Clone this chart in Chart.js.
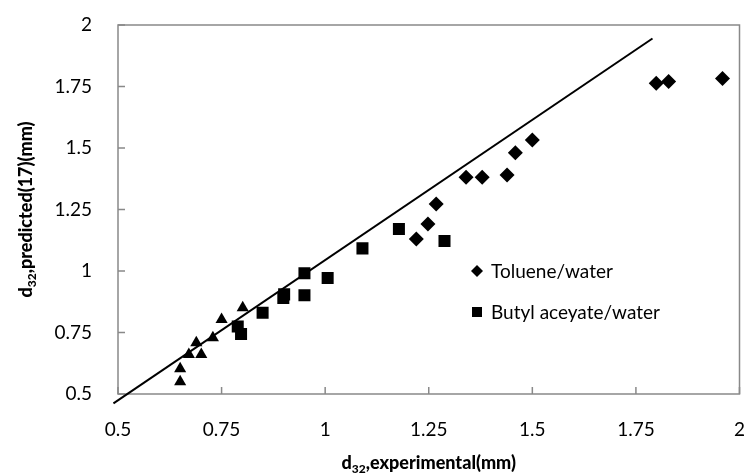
<!DOCTYPE html>
<html>
<head>
<meta charset="utf-8">
<script src="https://cdn.jsdelivr.net/npm/chart.js@4.4.1/dist/chart.umd.min.js"></script>
<style>
html,body{margin:0;padding:0;background:#fff;}
#wrap{width:748px;height:475px;}
</style>
</head>
<body>
<div id="wrap"><canvas id="c" width="748" height="475"></canvas></div>
<script>
// ---- data ----
const tolueneX = [1.220, 1.248, 1.268, 1.340, 1.379, 1.439, 1.459, 1.500, 1.799, 1.829, 1.959];
const tolueneY = [1.130, 1.191, 1.272, 1.381, 1.381, 1.390, 1.481, 1.533, 1.763, 1.770, 1.783];
const butylX = [0.789, 0.797, 0.849, 0.899, 0.901, 0.950, 0.950, 1.006, 1.090, 1.178, 1.288];
const butylY = [0.774, 0.744, 0.830, 0.890, 0.905, 0.991, 0.901, 0.972, 1.092, 1.171, 1.122];
const thirdX = [0.650, 0.650, 0.671, 0.689, 0.701, 0.729, 0.750, 0.801];
const thirdY = [0.550, 0.603, 0.661, 0.708, 0.661, 0.729, 0.803, 0.851];
const fitLineX = [0.489, 1.790];
const fitLineY = [0.462, 1.945];
const xTicks = [0.5, 0.75, 1, 1.25, 1.5, 1.75, 2];
const yTicks = [0.5, 0.75, 1, 1.25, 1.5, 1.75, 2];
const seriesNames = ['Toluene/water', 'Butyl aceyate/water', 'Series3', 'Line'];
const xTitle = ['d', '32', ',experimental(mm)'];
const yTitle = ['d', '32', ',predicted(17)(mm)'];

const pts = (xs, ys) => xs.map((x, i) => ({x: x, y: ys[i]}));
const FONT = 'Lato, "Open Sans", sans-serif';
const GRAY = '#898989';

const framePlugin = {
  id: 'frame',
  beforeDatasetsDraw(chart) {
    const {ctx, chartArea: a, scales} = chart;
    ctx.save();
    ctx.strokeStyle = GRAY;
    ctx.lineWidth = 1.5;
    ctx.strokeRect(a.left, a.top, a.right - a.left, a.bottom - a.top);
    ctx.beginPath();
    xTicks.forEach(v => {
      const px = scales.x.getPixelForValue(v);
      ctx.moveTo(px, a.bottom); ctx.lineTo(px, a.bottom - 7);
    });
    yTicks.forEach(v => {
      const py = scales.y.getPixelForValue(v);
      ctx.moveTo(a.left, py); ctx.lineTo(a.left + 7, py);
    });
    ctx.stroke();
    ctx.restore();
  },
  afterDraw(chart) {
    const {ctx, chartArea: a} = chart;
    ctx.save();
    ctx.fillStyle = '#000';
    function drawTitle(parts, cx, cy, rot) {
      ctx.save();
      ctx.translate(cx, cy);
      ctx.rotate(rot);
      const big = '900 18px ' + FONT, small = '900 12px ' + FONT;
      ctx.font = big; const w0 = ctx.measureText(parts[0]).width;
      const w2 = ctx.measureText(parts[2]).width;
      ctx.font = small; const w1 = ctx.measureText(parts[1]).width;
      const tot = w0 + w1 + w2;
      let x = -tot / 2;
      ctx.textBaseline = 'middle';
      ctx.textAlign = 'left';
      ctx.font = big; ctx.fillText(parts[0], x, 0); x += w0;
      ctx.font = small; ctx.fillText(parts[1], x, 6); x += w1;
      ctx.font = big; ctx.fillText(parts[2], x, 0);
      ctx.restore();
    }
    drawTitle(xTitle, (a.left + a.right) / 2, 463, 0);
    drawTitle(yTitle, 26, (a.top + a.bottom) / 2, -Math.PI / 2);
    const items = [
      {label: chart.data.datasets[0].label, style: 'diamond', y: 271},
      {label: chart.data.datasets[1].label, style: 'square', y: 312}
    ];
    ctx.font = '19px ' + FONT;
    ctx.textBaseline = 'middle';
    ctx.textAlign = 'left';
    items.forEach(it => {
      const mx = 477;
      ctx.beginPath();
      if (it.style === 'diamond') {
        ctx.moveTo(mx, it.y - 6); ctx.lineTo(mx + 6, it.y); ctx.lineTo(mx, it.y + 6); ctx.lineTo(mx - 6, it.y);
        ctx.closePath();
      } else {
        ctx.rect(mx - 5, it.y - 5, 10, 10);
      }
      ctx.fill();
      ctx.fillText(it.label, 491, it.y + 1);
    });
    ctx.restore();
  }
};

new Chart(document.getElementById('c'), {
  type: 'scatter',
  data: {
    datasets: [
      {label: seriesNames[0], data: pts(tolueneX, tolueneY), pointStyle: 'rectRot', pointRadius: 7.5,
        backgroundColor: '#000', borderColor: '#000', borderWidth: 0, order: 2},
      {label: seriesNames[1], data: pts(butylX, butylY), pointStyle: 'rect', pointRadius: 8.5,
        backgroundColor: '#000', borderColor: '#000', borderWidth: 0, order: 2},
      {label: seriesNames[2], data: pts(thirdX, thirdY), pointStyle: 'triangle', pointRadius: 7,
        backgroundColor: '#000', borderColor: '#000', borderWidth: 0, order: 2},
      {label: seriesNames[3], type: 'line', data: pts(fitLineX, fitLineY), showLine: true, pointRadius: 0,
        borderColor: '#000', borderWidth: 2, fill: false, clip: false, order: 1}
    ]
  },
  options: {
    responsive: false,
    animation: false,
    events: [],
    layout: {padding: {top: 25, right: 6, left: 0, bottom: 0}},
    plugins: {legend: {display: false}, tooltip: {enabled: false}},
    scales: {
      x: {
        type: 'linear', min: 0.5, max: 2,
        afterFit(s) { s.height = 81; },
        afterBuildTicks(s) { s.ticks = xTicks.map(v => ({value: v})); },
        grid: {display: false, drawTicks: true, tickLength: 22},
        border: {display: false},
        ticks: {color: '#000', font: {family: FONT, size: 19}, padding: 2, maxRotation: 0,
          callback: v => String(v)}
      },
      y: {
        type: 'linear', min: 0.5, max: 2,
        afterFit(s) { s.width = 118; },
        afterBuildTicks(s) { s.ticks = yTicks.map(v => ({value: v})); },
        grid: {display: false, drawTicks: true, tickLength: 24},
        border: {display: false},
        ticks: {color: '#000', font: {family: FONT, size: 19}, padding: 2,
          callback: v => String(v)}
      }
    }
  },
  plugins: [framePlugin]
});
</script>
</body>
</html>
